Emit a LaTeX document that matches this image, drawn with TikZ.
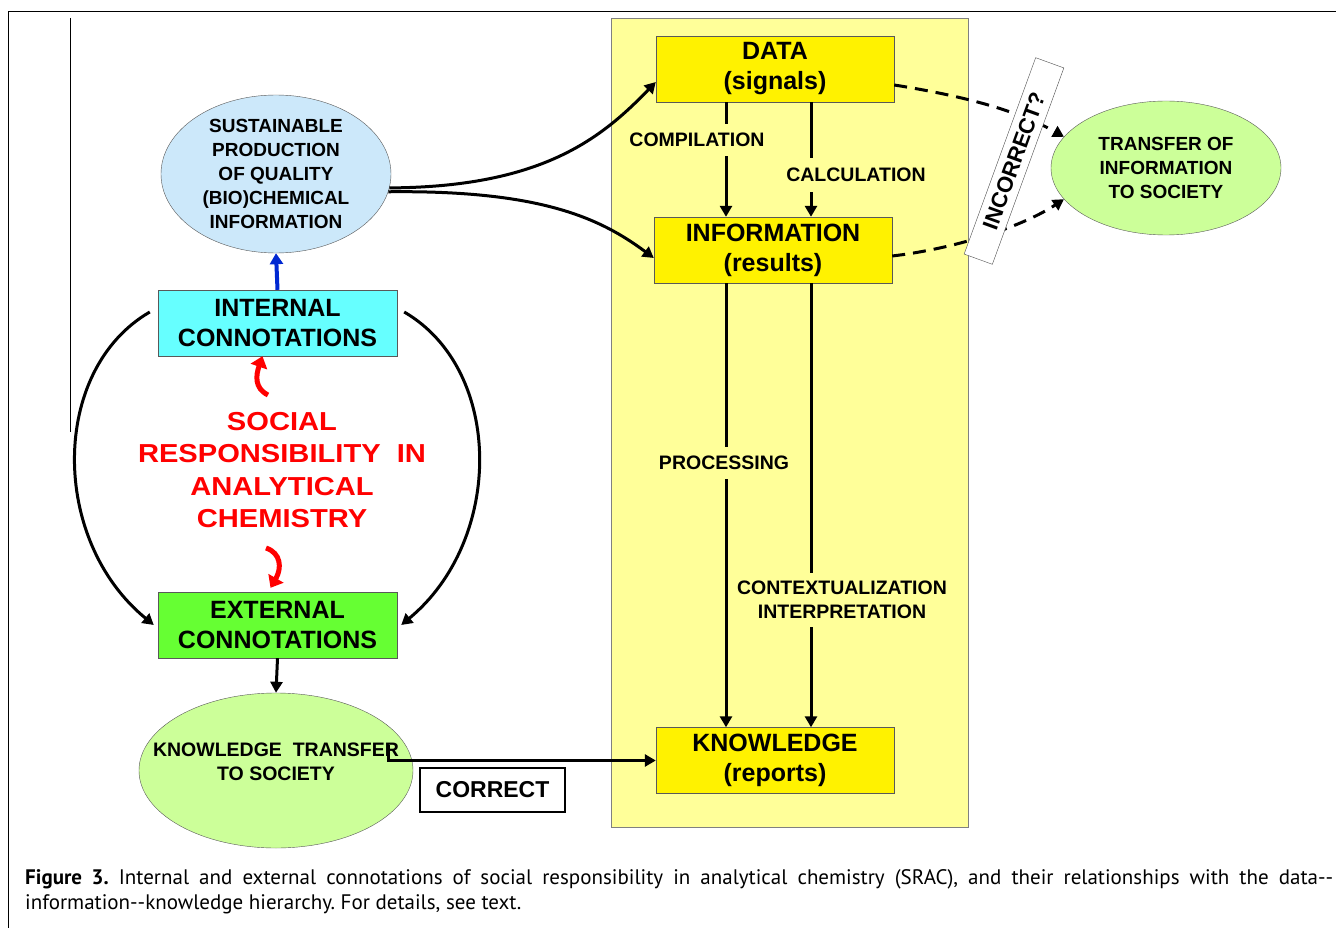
\documentclass[tikz,border=0pt]{standalone}
\usepackage{fontspec}
\setmainfont{Liberation Sans}
\newfontfamily\capfont{PT Sans}
\newfontfamily\redfont[FakeStretch=1.12]{Liberation Sans}
\usetikzlibrary{arrows.meta,shapes.geometric,calc}
\definecolor{panelc}{RGB}{255,255,153}
\definecolor{sustc}{RGB}{204,232,250}
\definecolor{intc}{RGB}{102,255,255}
\definecolor{extc}{RGB}{102,255,51}
\definecolor{lgreen}{RGB}{204,255,153}
\definecolor{blueline}{RGB}{0,40,210}
\definecolor{redtxt}{RGB}{255,0,0}
\begin{document}
\begin{tikzpicture}[x=1pt,y=-1pt,
  arr/.style={line width=3pt,-{Triangle[length=11pt,width=12pt]}},
  ybox/.style={draw=black!65,fill=yellow,minimum width=238pt,minimum height=66pt,inner sep=0pt,align=center,font=\bfseries\fontsize{25}{30}\selectfont},
  cbox/.style={draw=black!65,minimum width=239pt,minimum height=66pt,inner sep=0pt,align=center,font=\bfseries\fontsize{25}{30}\selectfont},
  ell/.style={ellipse,draw=black!65,inner sep=0pt},
  etext/.style={align=center,font=\bfseries\fontsize{19}{24}\selectfont,inner sep=0pt},
  lbl/.style={fill=panelc,inner xsep=3pt,inner ysep=9pt,align=center,font=\bfseries\fontsize{19.5}{24}\selectfont},
  dasharr/.style={line width=3pt,dash pattern=on 13pt off 8pt,-{Triangle[length=11pt,width=12pt]}},
  redarr/.style={redtxt,line width=5pt,-{Triangle[length=11pt,width=17pt]}},
  capstyle/.style={anchor=base west,inner sep=0pt,font=\capfont\fontsize{21}{25}\selectfont}
]
\useasboundingbox (0,0) rectangle (1336,928);
\fill[white] (0,0) rectangle (1336,928);
% frame lines
\draw[line width=1pt] (8,928) -- (8,12) -- (1336,12);
\draw[line width=1pt] (70,18) -- (70,432);

% yellow panel
\node[draw=black!50,fill=panelc,minimum width=357pt,minimum height=809pt,inner sep=0pt] (panel) at (789.5,422.5) {};

% boxes in panel
\node[ybox] (data) at (775,69) {DATA\\(signals)};
\node[ybox] (info) at (773,250) {INFORMATION\\(results)};
\node[ybox] (know) at (775,760.5) {KNOWLEDGE\\(reports)};

% left side
\node[ell,fill=sustc,minimum width=230pt,minimum height=158pt] (sust) at (276,174) {};
\node[etext] (sustt) at (276,174) {SUSTAINABLE\\PRODUCTION\\OF QUALITY\\(BIO)CHEMICAL\\INFORMATION};
\node[cbox,fill=intc] (int) at (277.5,323) {INTERNAL\\CONNOTATIONS};
\node[cbox,fill=extc] (ext) at (277.5,625) {EXTERNAL\\CONNOTATIONS};
\node[align=center,text=redtxt,inner sep=0pt,font=\redfont\bfseries\fontsize{26}{32.5}\selectfont] (srac) at (282,470) {SOCIAL\\RESPONSIBILITY~ IN\\ANALYTICAL\\CHEMISTRY};
\node[ell,fill=lgreen,minimum width=274pt,minimum height=155pt] (kt) at (276,770.5) {};
\node[etext,font=\bfseries\fontsize{19.5}{24}\selectfont] (ktt) at (276,762) {KNOWLEDGE~ TRANSFER\\TO SOCIETY};
\node[draw,line width=2pt,minimum width=145pt,minimum height=44pt,inner sep=0pt,font=\bfseries\fontsize{23}{28}\selectfont] (corr) at (492.5,790) {CORRECT};

% right ellipse
\node[ell,fill=lgreen,minimum width=230pt,minimum height=134pt,align=center,font=\bfseries\fontsize{19}{24}\selectfont] (trans) at (1166,168) {TRANSFER OF\\INFORMATION\\TO SOCIETY};

% connectors from sustainable production
\draw[arr] (sust.-7) .. controls (540,187) and (600,140) .. ([yshift=-13pt]data.west);
\draw[arr] (sust.-9) .. controls (540,190) and (600,218) .. ([yshift=-8pt]info.west);
\draw[line width=4pt,blueline,-{Triangle[length=11pt,width=13pt]}] (int.north) -- (sust.south);

% loops
\draw[arr] ([xshift=-8pt,yshift=11pt]int.west) .. controls (50,370) and (50,540) .. ([xshift=-4pt]ext.west);
\draw[arr] ([xshift=7pt,yshift=11pt]int.east) .. controls (504,370) and (504,540) .. ([xshift=4pt]ext.east);

% red curved arrows
\coordinate (r1) at (268,395);
\coordinate (r2) at (266,548);
\draw[redarr] (r1) .. controls (254,388) and (256,375) .. ([xshift=-15pt]int.south);
\draw[redarr] (r2) .. controls (281,553) and (282,568) .. ([xshift=-7pt,yshift=4pt]ext.north);

% ext -> kt -> know
\draw[arr] (ext.south) -- (kt.north);
\coordinate (ktout) at (388,745);
\draw[arr] (ktout) |- (know.west);

% hierarchy arrows
\coordinate (xl) at (726,0);
\coordinate (xr) at (811,0);
\draw[arr] (data.south -| xl) -- (info.north -| xl);
\draw[arr] (data.south -| xr) -- (info.north -| xr);
\draw[arr] (info.south -| xl) -- (know.north -| xl);
\draw[arr] (info.south -| xr) -- (know.north -| xr);
\node[lbl] (comp) at (697,140) {COMPILATION};
\node[lbl,inner ysep=10pt] (calc) at (856,175) {CALCULATION};
\node[lbl] (proc) at (724,463) {PROCESSING};
\node[lbl,inner ysep=8pt] (ctx) at (842,600) {CONTEXTUALIZATION\\INTERPRETATION};

% dashed arrows to society
\draw[dasharr] ([yshift=-16pt]data.east) .. controls (970,97) and (1020,112) .. (trans.163);
\draw[dasharr] ([yshift=-6pt]info.east) .. controls (960,248) and (1025,225) .. (trans.197);
\node[draw=black!70,fill=white,rotate=70,minimum width=209pt,minimum height=30pt,inner sep=0pt,font=\bfseries\fontsize{22}{26}\selectfont] (inc) at (1014,161) {INCORRECT?};

% caption
\node[capstyle] (cap1) at (25,884) {\makebox[1308pt][s]{\textbf{Figure 3.}\ Internal and external connotations of social responsibility in analytical chemistry (SRAC),\ and their relationships with the data-{}-}};
\node[capstyle] (cap2) at (25,909) {information-{}-knowledge hierarchy.\ For details,\ see text.};
\end{tikzpicture}
\end{document}
